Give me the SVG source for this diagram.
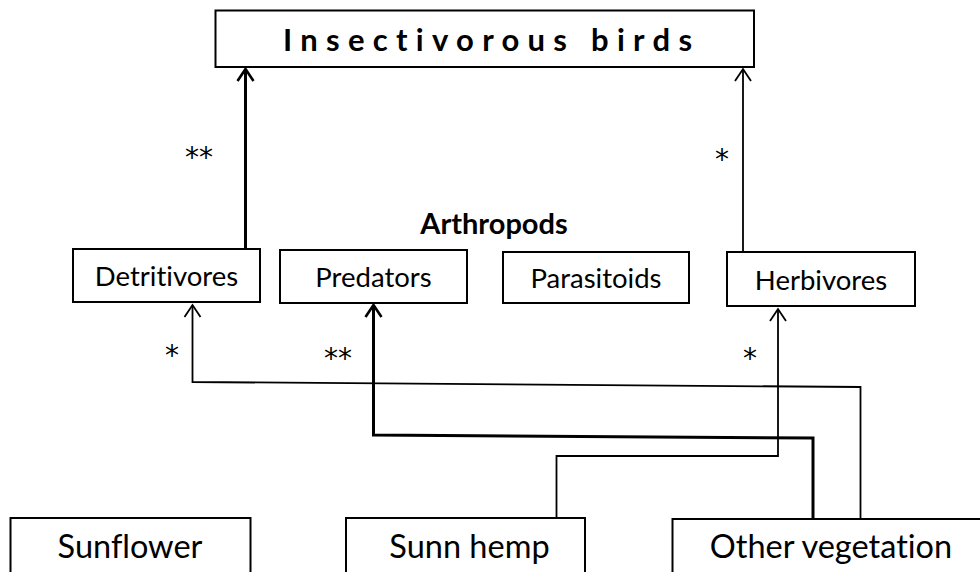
<svg xmlns="http://www.w3.org/2000/svg" width="980" height="572" viewBox="0 0 980 572">
<style>
.box{fill:#fff;stroke:#000;stroke-width:2}
.t{font-family:Lato,"Liberation Sans",sans-serif;fill:#000;text-anchor:middle;font-variant-ligatures:none;font-feature-settings:"liga" 0,"clig" 0}
.m{font-size:27.5px}
.b{font-size:32.5px}
.s{font-family:"DejaVu Sans",sans-serif;font-size:28px;fill:#000;text-anchor:middle}
.thin{fill:none;stroke:#000;stroke-width:1.8;marker-end:url(#ah)}
.thick{fill:none;stroke:#000;stroke-width:3;marker-end:url(#ahb)}
</style>
<defs>
<marker id="ah" markerUnits="userSpaceOnUse" viewBox="-14 -10 16 20" refX="0" refY="0" markerWidth="16" markerHeight="20" orient="auto">
<path d="M-12,-8 L0,0 L-12,8" fill="none" stroke="#000" stroke-width="1.8"/>
</marker>
<marker id="ahb" markerUnits="userSpaceOnUse" viewBox="-14 -10 16 20" refX="0" refY="0" markerWidth="16" markerHeight="20" orient="auto">
<path d="M-12,-8 L0,0 L-12,8" fill="none" stroke="#000" stroke-width="2.6"/>
</marker>
</defs>
<g id="connectors">
<path class="thick" d="M245.5,249 V69"/>
<path class="thin" d="M743,252 V69"/>
<path class="thin" d="M860.5,519 V387 L192.5,382 V305"/>
<path class="thick" d="M813,519 V438 L373.5,435 V305"/>
<path class="thin" d="M556.5,522 V456 H778 V309"/>
</g>
<g id="labels">
<text class="s" x="199" y="167">**</text>
<text class="s" x="722" y="169">*</text>
<text class="s" x="172" y="365">*</text>
<text class="s" x="338" y="368">**</text>
<text class="s" x="750" y="368">*</text>
</g>
<g id="birds">
<rect class="box" x="215.5" y="10.5" width="538.5" height="56.5"/>
<text class="t" x="487.5" y="51" font-size="31" font-weight="bold" textLength="409" lengthAdjust="spacing">Insectivorous birds</text>
</g>
<g id="arthropods">
<text class="t" x="494" y="234" font-size="29" font-weight="bold">Arthropods</text>
</g>
<g id="detritivores">
<rect class="box" x="73" y="249" width="187" height="53"/>
<text class="t m" x="166.5" y="286">Detritivores</text>
</g>
<g id="predators">
<rect class="box" x="280" y="250" width="187" height="53"/>
<text class="t m" x="373.5" y="287">Predators</text>
</g>
<g id="parasitoids">
<rect class="box" x="503" y="252" width="186" height="51"/>
<text class="t m" x="596" y="288">Parasitoids</text>
</g>
<g id="herbivores">
<rect class="box" x="727" y="252" width="188" height="54"/>
<text class="t m" x="821" y="290">Herbivores</text>
</g>
<g id="sunflower">
<rect class="box" x="10.5" y="518" width="240" height="80"/>
<text class="t b" x="130" y="558">Sunflower</text>
</g>
<g id="sunnhemp">
<rect class="box" x="346" y="518" width="239" height="80"/>
<text class="t b" x="469.5" y="558">Sunn hemp</text>
</g>
<g id="othervegetation">
<rect class="box" x="672.5" y="519" width="320" height="80"/>
<text class="t b" x="831" y="558">Other vegetation</text>
</g>
</svg>
